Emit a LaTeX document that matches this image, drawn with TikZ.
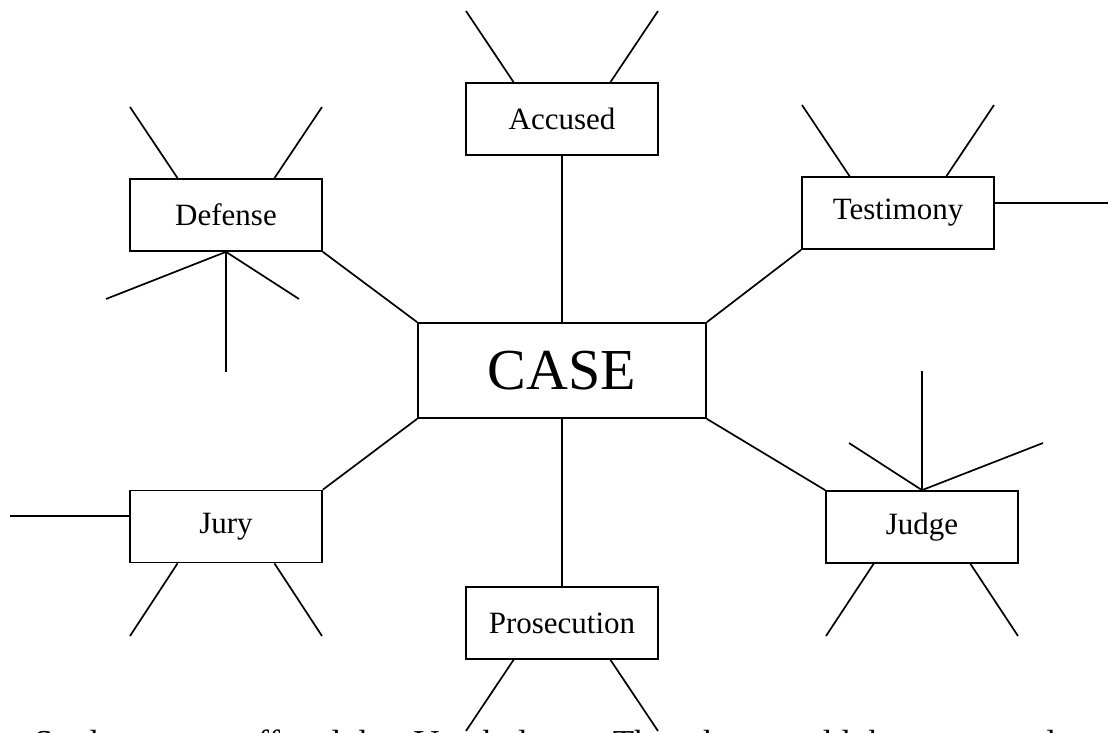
\documentclass[tikz,border=0pt]{standalone}
\usepackage{fontspec}
\setmainfont{Liberation Serif}
\usetikzlibrary{calc}
\begin{document}
\begin{tikzpicture}[x=1pt,y=-1pt,
  line width=1.7pt, line join=miter,
  box/.style={draw, rectangle, inner sep=0pt, minimum width=192pt, minimum height=72pt,
    font=\fontsize{31}{36}\selectfont},
  casebox/.style={draw, rectangle, inner sep=0pt, minimum width=288pt, minimum height=95pt,
    font=\fontsize{58}{66}\selectfont},
  spoke/.style={line width=1.7pt},
  btext/.style={anchor=base west, inner sep=0pt, font=\fontsize{35}{40}\selectfont}]
\useasboundingbox (0,0) rectangle (1112,733);
\clip (0,0) rectangle (1112,733);

% boxes
\node[casebox] (case) at (562,370.5) {CASE};
\node[box] (accused) at (562,119) {Accused};
\node[box] (defense) at (226,215) {Defense};
\node[box] (testimony) at (898,213) {Testimony};
\node[box] (jury) at (226,526.5) {Jury};
\node[box] (judge) at (922,527) {Judge};
\node[box] (prosecution) at (562,623) {Prosecution};

% connectors to CASE
\draw[spoke] (case.north) -- (accused.south);
\draw[spoke] (case.north west) -- (defense.south east);
\draw[spoke] (case.north east) -- (testimony.south west);
\draw[spoke] (case.south west) -- (jury.north east);
\draw[spoke] (case.south east) -- (judge.north west);
\draw[spoke] (case.south) -- (prosecution.north);

% free ends
\coordinate (acL) at (466,11);
\coordinate (acR) at (658,11);
\coordinate (deL) at (130,107);
\coordinate (deR) at (322,107);
\coordinate (teL) at (802,105);
\coordinate (teR) at (994,105);
\coordinate (teE) at (1108,203);
\coordinate (dbL) at (106,299);
\coordinate (dbM) at (226,372);
\coordinate (dbR) at (299,299);
\coordinate (jgL) at (849,443);
\coordinate (jgM) at (922,371);
\coordinate (jgR) at (1043,443);
\coordinate (jbL) at (826,636);
\coordinate (jbR) at (1018,636);
\coordinate (juW) at (10,516);
\coordinate (jubL) at (130,636);
\coordinate (jubR) at (322,636);
\coordinate (prL) at (466,731);
\coordinate (prR) at (658,731);

% Accused
\draw[spoke] ($(accused.north west)!0.25!(accused.north east)$) -- (acL);
\draw[spoke] ($(accused.north west)!0.75!(accused.north east)$) -- (acR);
% Defense
\draw[spoke] ($(defense.north west)!0.25!(defense.north east)$) -- (deL);
\draw[spoke] ($(defense.north west)!0.75!(defense.north east)$) -- (deR);
\draw[spoke] (defense.south) -- (dbL);
\draw[spoke] (defense.south) -- (dbM);
\draw[spoke] (defense.south) -- (dbR);
% Testimony
\draw[spoke] ($(testimony.north west)!0.25!(testimony.north east)$) -- (teL);
\draw[spoke] ($(testimony.north west)!0.75!(testimony.north east)$) -- (teR);
\draw[spoke] (testimony.north east |- teE) -- (teE);
% Judge
\draw[spoke] (judge.north) -- (jgL);
\draw[spoke] (judge.north) -- (jgM);
\draw[spoke] (judge.north) -- (jgR);
\draw[spoke] ($(judge.south west)!0.25!(judge.south east)$) -- (jbL);
\draw[spoke] ($(judge.south west)!0.75!(judge.south east)$) -- (jbR);
% Jury
\draw[spoke] (jury.north west |- juW) -- (juW);
\draw[spoke] ($(jury.south west)!0.25!(jury.south east)$) -- (jubL);
\draw[spoke] ($(jury.south west)!0.75!(jury.south east)$) -- (jubR);
% Prosecution
\draw[spoke] ($(prosecution.south west)!0.25!(prosecution.south east)$) -- (prL);
\draw[spoke] ($(prosecution.south west)!0.75!(prosecution.south east)$) -- (prR);

% bottom text (cut off by the page edge, as in the reference)
\node[btext] (t1) at (33,754) {Students were offered the};
\node[btext] (t2) at (413,754) {Vocabulary.};
\node[btext] (t3) at (612,754) {Then they would then use words to the};
\end{tikzpicture}
\end{document}
